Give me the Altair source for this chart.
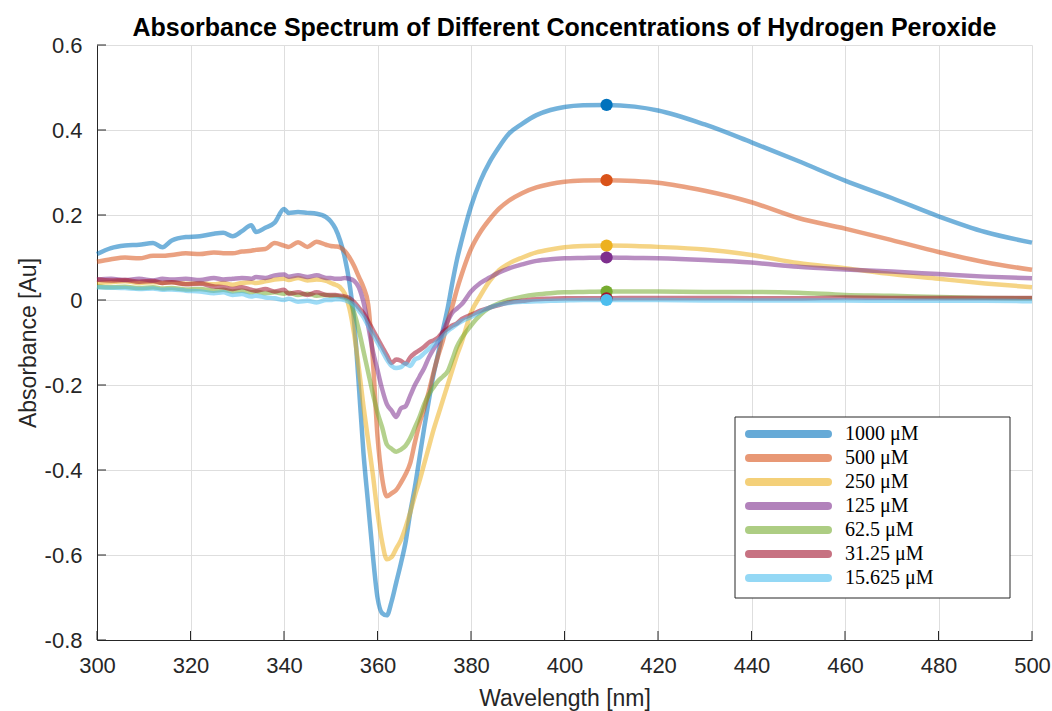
import altair as alt
import pandas as pd

# ---------------- data ----------------
WL = [300, 303, 306, 309, 312, 314, 316, 319, 322, 325,
      327, 329, 331, 333, 334, 336, 338, 340, 341, 343,
      345, 347, 349, 350, 351, 352, 353, 354, 355, 356,
      357, 358, 359, 360, 361, 362, 363, 364, 365, 366,
      367, 368, 369, 370, 371, 372, 373, 374, 375, 376,
      377, 378, 380, 382, 384, 386, 388, 391, 394, 397,
      400, 404, 409, 415, 420, 430, 440, 450, 460, 470,
      480, 490, 500]

CONCS = ["1000 μM", "500 μM", "250 μM", "125 μM", "62.5 μM", "31.25 μM", "15.625 μM"]

A_1000 = [0.108, 0.122, 0.128, 0.130, 0.134, 0.124, 0.140, 0.148, 0.150, 0.156,
          0.158, 0.150, 0.162, 0.176, 0.160, 0.170, 0.182, 0.214, 0.205, 0.207,
          0.205, 0.203, 0.195, 0.185, 0.168, 0.140, 0.100, 0.040, -0.050, -0.200,
          -0.360, -0.480, -0.600, -0.700, -0.737, -0.742, -0.710, -0.665, -0.620, -0.570,
          -0.500, -0.440, -0.370, -0.300, -0.235, -0.175, -0.125, -0.070, -0.020, 0.040,
          0.095, 0.140, 0.220, 0.280, 0.325, 0.360, 0.390, 0.415, 0.435, 0.447,
          0.454, 0.458, 0.459, 0.455, 0.446, 0.413, 0.371, 0.327, 0.281, 0.240,
          0.197, 0.160, 0.135]

A_500 = [0.090, 0.096, 0.100, 0.098, 0.104, 0.104, 0.106, 0.110, 0.108, 0.112,
         0.110, 0.110, 0.114, 0.116, 0.118, 0.120, 0.134, 0.128, 0.125, 0.136,
         0.125, 0.137, 0.130, 0.127, 0.126, 0.124, 0.115, 0.100, 0.080, 0.055,
         0.030, -0.010, -0.140, -0.320, -0.420, -0.462, -0.455, -0.447, -0.430, -0.410,
         -0.384, -0.335, -0.290, -0.255, -0.215, -0.170, -0.130, -0.095, -0.050, -0.015,
         0.025, 0.060, 0.120, 0.160, 0.190, 0.215, 0.233, 0.252, 0.265, 0.273,
         0.278, 0.281, 0.282, 0.280, 0.276, 0.257, 0.230, 0.193, 0.168, 0.141,
         0.113, 0.089, 0.071]

A_250 = [0.040, 0.042, 0.044, 0.040, 0.042, 0.040, 0.042, 0.038, 0.040, 0.037,
         0.040, 0.036, 0.040, 0.042, 0.040, 0.044, 0.048, 0.050, 0.047, 0.052,
         0.046, 0.048, 0.045, 0.040, 0.036, 0.030, 0.015, -0.020, -0.080, -0.160,
         -0.250, -0.330, -0.410, -0.500, -0.570, -0.610, -0.605, -0.585, -0.565, -0.535,
         -0.500, -0.460, -0.425, -0.385, -0.345, -0.305, -0.270, -0.235, -0.200, -0.165,
         -0.130, -0.100, -0.030, 0.010, 0.045, 0.070, 0.085, 0.100, 0.112, 0.119,
         0.124, 0.127, 0.128, 0.127, 0.125, 0.119, 0.106, 0.087, 0.075, 0.061,
         0.050, 0.039, 0.030]

A_125 = [0.048, 0.050, 0.047, 0.050, 0.046, 0.050, 0.048, 0.050, 0.047, 0.052,
         0.048, 0.050, 0.052, 0.050, 0.054, 0.052, 0.058, 0.060, 0.055, 0.058,
         0.054, 0.058, 0.052, 0.052, 0.050, 0.050, 0.052, 0.050, 0.045, 0.030,
         -0.005, -0.060, -0.120, -0.165, -0.210, -0.245, -0.260, -0.275, -0.255, -0.250,
         -0.225, -0.200, -0.180, -0.160, -0.135, -0.115, -0.098, -0.075, -0.050, -0.030,
         -0.020, -0.010, 0.020, 0.040, 0.053, 0.065, 0.074, 0.084, 0.092, 0.096,
         0.098, 0.099, 0.100, 0.099, 0.098, 0.094, 0.088, 0.078, 0.072, 0.067,
         0.061, 0.055, 0.051]

A_62 = [0.032, 0.030, 0.031, 0.028, 0.030, 0.027, 0.028, 0.025, 0.026, 0.022,
        0.024, 0.020, 0.022, 0.018, 0.020, 0.016, 0.018, 0.015, 0.017, 0.012,
        0.015, 0.010, 0.012, 0.010, 0.010, 0.008, 0.005, 0.000, -0.030, -0.070,
        -0.120, -0.170, -0.220, -0.265, -0.300, -0.340, -0.350, -0.357, -0.352, -0.343,
        -0.325, -0.300, -0.275, -0.245, -0.222, -0.205, -0.190, -0.180, -0.168, -0.140,
        -0.110, -0.090, -0.060, -0.035, -0.018, -0.008, 0.000, 0.008, 0.013, 0.016,
        0.018, 0.019, 0.020, 0.020, 0.020, 0.019, 0.019, 0.017, 0.012, 0.010,
        0.007, 0.005, 0.004]

A_31 = [0.048, 0.046, 0.047, 0.043, 0.045, 0.040, 0.042, 0.037, 0.038, 0.032,
        0.030, 0.026, 0.030, 0.024, 0.022, 0.026, 0.020, 0.024, 0.015, 0.018,
        0.012, 0.018, 0.012, 0.012, 0.012, 0.010, 0.008, 0.004, -0.005, -0.018,
        -0.031, -0.050, -0.070, -0.090, -0.110, -0.130, -0.148, -0.140, -0.143, -0.150,
        -0.135, -0.125, -0.118, -0.110, -0.100, -0.095, -0.088, -0.075, -0.068, -0.060,
        -0.055, -0.045, -0.035, -0.025, -0.018, -0.012, -0.006, -0.002, 0.002, 0.003,
        0.004, 0.004, 0.004, 0.005, 0.005, 0.005, 0.004, 0.004, 0.006, 0.005,
        0.005, 0.005, 0.005]

A_15 = [0.030, 0.029, 0.028, 0.026, 0.027, 0.024, 0.025, 0.022, 0.020, 0.016,
        0.018, 0.012, 0.014, 0.008, 0.010, 0.006, 0.004, 0.000, 0.003, -0.004,
        -0.002, -0.006, 0.000, 0.000, 0.002, 0.002, 0.000, -0.005, -0.012, -0.025,
        -0.040, -0.060, -0.080, -0.100, -0.120, -0.140, -0.155, -0.160, -0.158, -0.150,
        -0.155, -0.140, -0.135, -0.125, -0.115, -0.105, -0.095, -0.085, -0.073, -0.065,
        -0.057, -0.050, -0.040, -0.028, -0.018, -0.011, -0.007, -0.004, -0.003, -0.002,
        -0.001, 0.000, 0.000, 0.000, 0.000, -0.001, -0.001, -0.001, -0.001, -0.002,
        -0.002, -0.002, -0.003]

SERIES = [A_1000, A_500, A_250, A_125, A_62, A_31, A_15]

PEAK_WL = 409
PEAK_A = [0.459, 0.282, 0.128, 0.100, 0.020, 0.004, 0.000]

COLORS = ["#0072BD", "#D95319", "#EDB120", "#7E2F8E", "#77AC30", "#A2142F", "#4DBEEE"]

XTICKS = [300, 320, 340, 360, 380, 400, 420, 440, 460, 480, 500]
YTICKS = [-0.8, -0.6, -0.4, -0.2, 0.0, 0.2, 0.4, 0.6]

XMIN, XMAX = 300, 500
YMIN, YMAX = -0.8, 0.6

# ---------------- layout ----------------
W, H = 935, 595
PAD = {"left": 97, "top": 45, "right": 20, "bottom": 71}
TICK_PX = 9
AXIS_COLOR = "#262626"
FONT = "Liberation Sans"

# legend box geometry (pixels inside the plot area)
LEG_X0, LEG_X1, LEG_Y0, LEG_Y1 = 638, 913, 372, 553
LEG_SYM_X0, LEG_SYM_X1 = 652, 731
LEG_TXT_X = 748
LEG_ROW0, LEG_ROWN = 389, 533

rows = []
for conc, vals in zip(CONCS, SERIES):
    for i, (w, a) in enumerate(zip(WL, vals)):
        rows.append({"wl": w, "A": a, "conc": conc, "idx": i})
df = pd.DataFrame(rows)

peaks = pd.DataFrame({"wl": [PEAK_WL] * len(CONCS), "A": PEAK_A, "conc": CONCS})
legend_df = pd.DataFrame({"conc": CONCS, "rank": list(range(len(CONCS)))})

xscale = alt.Scale(domain=[XMIN, XMAX], nice=False, zero=False)
yscale = alt.Scale(domain=[YMIN, YMAX], nice=False, zero=False)
cscale = alt.Scale(domain=CONCS, range=COLORS)
rscale = alt.Scale(domain=[0, len(CONCS) - 1], range=[LEG_ROW0, LEG_ROWN], nice=False, zero=False)

xaxis = alt.Axis(
    title="Wavelength [nm]", values=XTICKS, format="d",
    grid=True, gridColor="#dedede", gridWidth=1,
    domainColor=AXIS_COLOR, domainWidth=1, ticks=False, tickSize=0,
    labelFont=FONT, labelFontSize=22, labelColor=AXIS_COLOR, labelPadding=15,
    titleFont=FONT, titleFontSize=23, titleFontWeight="normal", titleColor=AXIS_COLOR,
    titleBaseline="alphabetic", titleY=65, labelFlush=False,
)
yaxis = alt.Axis(
    title="Absorbance [Au]", values=YTICKS,
    labelExpr="replace(format(datum.value, '.1~f'), '\u2212', '-')",
    grid=True, gridColor="#dedede", gridWidth=1,
    domainColor=AXIS_COLOR, domainWidth=1, ticks=False, tickSize=0,
    labelFont=FONT, labelFontSize=22, labelColor=AXIS_COLOR, labelPadding=15,
    titleFont=FONT, titleFontSize=23, titleFontWeight="normal", titleColor=AXIS_COLOR,
    titleBaseline="alphabetic", titleX=-62, titleY=H / 2, titleAngle=270, labelFlush=False,
)

color = alt.Color("conc:N", scale=cscale, sort=CONCS, legend=None)

lines = alt.Chart(df).mark_line(strokeWidth=4.5, opacity=0.55, interpolate="monotone").encode(
    x=alt.X("wl:Q", scale=xscale, axis=xaxis),
    y=alt.Y("A:Q", scale=yscale, axis=yaxis),
    color=color,
    order="idx:Q",
)

points = alt.Chart(peaks).mark_circle(size=150, opacity=1).encode(
    x=alt.X("wl:Q", scale=xscale, axis=xaxis),
    y=alt.Y("A:Q", scale=yscale, axis=None),
    color=color,
)

# inward tick marks (MATLAB style)
ky = TICK_PX * (YMAX - YMIN) / H
kx = TICK_PX * (XMAX - XMIN) / W
xt = pd.DataFrame({"wl": XTICKS, "A": [YMIN] * len(XTICKS), "A2": [YMIN + ky] * len(XTICKS)})
yt = pd.DataFrame({"A": YTICKS, "wl": [XMIN] * len(YTICKS), "wl2": [XMIN + kx] * len(YTICKS)})

xticks = alt.Chart(xt).mark_rule(color=AXIS_COLOR, strokeWidth=1).encode(
    x=alt.X("wl:Q", scale=xscale, axis=xaxis),
    y=alt.Y("A:Q", scale=yscale, axis=None),
    y2="A2:Q",
)
yticks = alt.Chart(yt).mark_rule(color=AXIS_COLOR, strokeWidth=1).encode(
    y=alt.Y("A:Q", scale=yscale, axis=None),
    x=alt.X("wl:Q", scale=xscale, axis=xaxis),
    x2="wl2:Q",
)

# ---------------- legend (drawn as marks) ----------------
legend_box = alt.Chart(pd.DataFrame({"k": [0]})).mark_rect(
    fill="white", stroke=AXIS_COLOR, strokeWidth=1
).encode(
    x=alt.value(LEG_X0), x2=alt.value(LEG_X1),
    y=alt.value(LEG_Y0), y2=alt.value(LEG_Y1),
)
legend_sym = alt.Chart(legend_df).mark_rule(strokeWidth=8, opacity=0.6, strokeCap="round").encode(
    x=alt.value(LEG_SYM_X0), x2=alt.value(LEG_SYM_X1),
    y=alt.Y("rank:Q", scale=rscale, axis=None),
    color=color,
)
legend_txt = alt.Chart(legend_df).mark_text(
    align="left", baseline="middle", font="Liberation Serif", fontSize=20, color="black"
).encode(
    x=alt.value(LEG_TXT_X),
    y=alt.Y("rank:Q", scale=rscale, axis=None),
    text="conc:N",
)

chart = alt.layer(
    lines, points, xticks, yticks, legend_box, legend_sym, legend_txt
).resolve_scale(y="independent").properties(
    width=W, height=H,
    autosize=alt.AutoSizeParams(type="none"),
    padding=PAD,
    background="white",
    title=alt.TitleParams(
        "Absorbance Spectrum of Different Concentrations of Hydrogen Peroxide",
        font=FONT, fontSize=25, fontWeight="bold", color="black",
        anchor="middle", offset=8, dy=15,
    ),
).configure_view(stroke=None)

chart.save("out.html", embed_options={"renderer": "svg", "actions": False})
